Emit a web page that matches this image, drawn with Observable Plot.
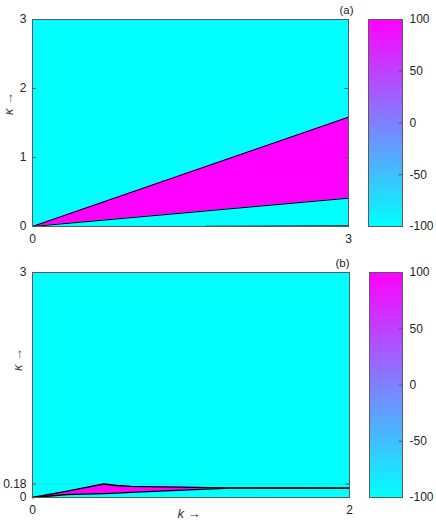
<!DOCTYPE html>
<html>
<head>
<meta charset="utf-8">
<script src="https://cdn.jsdelivr.net/npm/d3@7"></script>
<script src="https://cdn.jsdelivr.net/npm/@observablehq/plot@0.6"></script>
<style>
  html, body { margin: 0; padding: 0; background: #fff; }
  #chart { position: relative; width: 436px; height: 522px; overflow: hidden; }
  #chart svg { position: absolute; }
</style>
</head>
<body>
<div id="chart"></div>
<script>
// ---------- data ----------
// panel (a): boundaries of the magenta region
const kA = [0, 3];
const upperA = [0, 1.584];
const lowerA = [0, 0.41];
// faint near-zero contour in (a)
const kA0 = [1.65, 3];
const nearZeroA = [0.004, 0.012];

// panel (b)
const kB =     [0, 0.22, 0.45, 0.53, 0.62, 0.80, 0.95, 1.10, 1.25, 1.60, 2.00];
const upperB = [0, 0.085, 0.18, 0.16, 0.148, 0.142, 0.138, 0.133, 0.128, 0.127, 0.126];
const lowerB = [0, 0.040, 0.052, 0.058, 0.068, 0.085, 0.098, 0.112, 0.126, 0.127, 0.126];

// ticks
const xTicksA = [0, 3];
const yTicksA = [0, 1, 2, 3];
const xTicksB = [0, 2];
const yTicksB = [0, 0.18, 3];
const refLineB = [0.18];
const cbTicks = [-100, -50, 0, 50, 100];
const cbDomain = [-100, 100];

const CYAN = "#00ffff", MAGENTA = "#ff00ff";
const FONT = "'Liberation Sans', Arial, Helvetica, sans-serif";
const TXT = "#262626";
const FRAME = "#5a5a5a";

const chart = document.getElementById("chart");

function place(svg, left, top) {
  svg.style.left = left + "px";
  svg.style.top = top + "px";
  chart.appendChild(svg);
}

function panel({width, height, margins, xDomain, yDomain, xTicks, yTicks, k, upper, lower, extraLines, refLines, lineWidth, tag, tagDx, tagDy, ylabDx, ylabDy, xlab}) {
  const [mt, mr, mb, ml] = margins;
  const pw = width - ml - mr, ph = height - mt - mb;
  const tx = (xDomain[1] - xDomain[0]) * 4 / pw;
  const ty = (yDomain[1] - yDomain[0]) * 4 / ph;
  const rows = k.map((kk, i) => ({k: kk, hi: upper[i], lo: lower[i]}));
  const marks = [
    Plot.frame({fill: CYAN, stroke: null}),
    Plot.areaY(rows, {x: "k", y1: "lo", y2: "hi", fill: MAGENTA}),
    ...(refLines || []).map(v => Plot.ruleY([v], {stroke: "#20e0e6", strokeWidth: 1})),
    Plot.line(rows, {x: "k", y: "hi", stroke: "#000", strokeWidth: lineWidth}),
    Plot.line(rows, {x: "k", y: "lo", stroke: "#000", strokeWidth: lineWidth}),
    ...(extraLines || []).map(r => Plot.line(r.k.map((kk, i) => ({k: kk, v: r.v[i]})), {x: "k", y: "v", stroke: r.stroke, strokeWidth: 1})),
    // inward tick marks (left, right, bottom)
    Plot.ruleY(yTicks, {x1: xDomain[0], x2: xDomain[0] + tx, stroke: FRAME}),
    Plot.ruleY(yTicks, {x1: xDomain[1] - tx, x2: xDomain[1], stroke: FRAME}),
    Plot.ruleX(xTicks, {y1: yDomain[0], y2: yDomain[0] + ty, stroke: FRAME}),
    Plot.frame({stroke: FRAME, strokeWidth: 1}),
    Plot.axisY({ticks: yTicks, tickSize: 0, tickPadding: 6, label: null, fontSize: 12, tickFormat: d => String(d)}),
    Plot.axisX({ticks: xTicks, tickSize: 0, tickPadding: 8, label: null, fontSize: 12, tickFormat: d => String(d)}),
    Plot.text([tag], {frameAnchor: "top-right", dx: tagDx, dy: tagDy, lineAnchor: "middle", textAnchor: "end", fontSize: 11.5, fill: TXT}),
    Plot.text(["κ →"], {frameAnchor: "left", rotate: -90, dx: ylabDx, dy: ylabDy, fontSize: 13, fontStyle: "italic", fill: "#444"})
  ];
  if (xlab) {
    marks.push(Plot.text(["k →"], {frameAnchor: "bottom", dx: xlab.dx, dy: xlab.dy, lineAnchor: "middle", fontSize: 13, fontStyle: "italic", fill: "#333"}));
  }
  return Plot.plot({
    width, height,
    marginTop: mt, marginRight: mr, marginBottom: mb, marginLeft: ml,
    x: {domain: xDomain, axis: null},
    y: {domain: yDomain, axis: null},
    style: {fontFamily: FONT, fontSize: "12px", color: TXT, background: "transparent", overflow: "visible"},
    marks
  });
}

function colorbar({width, height, margins}) {
  const [mt, mr, mb, ml] = margins;
  const step = 0.5;
  const bins = d3.range(cbDomain[0], cbDomain[1], step);
  return Plot.plot({
    width, height,
    marginTop: mt, marginRight: mr, marginBottom: mb, marginLeft: ml,
    x: {domain: [0, 1], axis: null},
    y: {domain: cbDomain, axis: null},
    color: {type: "linear", domain: cbDomain, range: [CYAN, MAGENTA], interpolate: "rgb"},
    style: {fontFamily: FONT, fontSize: "12px", color: TXT, background: "transparent", overflow: "visible"},
    marks: [
      Plot.rect(bins, {x1: 0, x2: 1, y1: d => d, y2: d => d + step * 1.05, fill: d => d + step / 2, shapeRendering: "crispEdges"}),
      Plot.ruleY(cbTicks.slice(1, -1), {x1: 0.9, x2: 1, stroke: FRAME}),
      Plot.frame({stroke: FRAME, strokeWidth: 1}),
      Plot.axisY({anchor: "right", ticks: cbTicks, tickSize: 0, tickPadding: 7, label: null, fontSize: 12, tickFormat: d => String(d)})
    ]
  });
}

place(panel({
  width: 360, height: 250, margins: [19, 12, 24, 32],
  xDomain: [0, 3], yDomain: [0, 3], xTicks: xTicksA, yTicks: yTicksA,
  k: kA, upper: upperA, lower: lowerA, lineWidth: 1,
  extraLines: [{k: kA0, v: nearZeroA, stroke: "#333"}],
  tag: "(a)", tagDx: 5, tagDy: -9, ylabDx: -24, ylabDy: -8
}), 0, 0);

place(colorbar({width: 76, height: 250, margins: [19, 34, 24, 8]}), 360, 0);

place(panel({
  width: 360, height: 272, margins: [22, 11, 25, 32],
  xDomain: [0, 2], yDomain: [0, 3], xTicks: xTicksB, yTicks: yTicksB,
  k: kB, upper: upperB, lower: lowerB, refLines: refLineB, lineWidth: 1.3,
  tag: "(b)", tagDx: 0, tagDy: -9, ylabDx: -15, ylabDy: -14,
  xlab: {dx: -2, dy: 16}
}), 0, 250);

place(colorbar({width: 76, height: 272, margins: [22, 34, 25, 9]}), 360, 250);
</script>
</body>
</html>
